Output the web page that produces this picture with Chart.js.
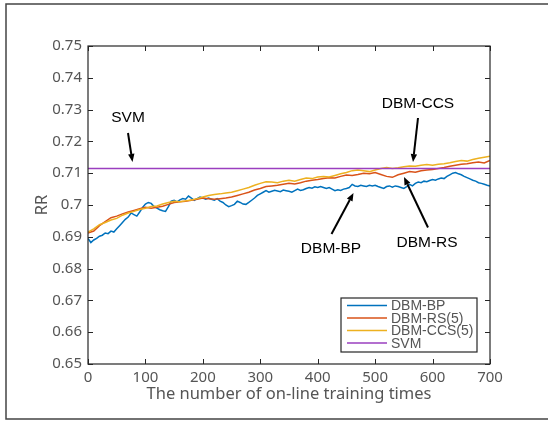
<!DOCTYPE html>
<html>
<head>
<meta charset="utf-8">
<title>RR vs on-line training times</title>
<script src="https://cdn.jsdelivr.net/npm/chart.js@4.4.1/dist/chart.umd.min.js"></script>
<style>
    html, body { margin: 0; padding: 0; background: #fff; }
    canvas { display: block; }
</style>
</head>
<body>
<canvas id="rr-chart" width="548" height="423"></canvas>
<script>
(function () {
    "use strict";

    // ===== Data =====
    // x step for each series (number of on-line training times)
    const stepCoarse = 10;
    const stepFine   = 5;

    // DBM-BP, every 5 steps
    const bpValues = [
        0.6895, 0.6882, 0.6890, 0.6895, 0.6902, 0.6905, 0.6912, 0.6910, 0.6918, 0.6915,
        0.6925, 0.6935, 0.6945, 0.6955, 0.6962, 0.6975, 0.6970, 0.6965, 0.6978, 0.6992,
        0.7003, 0.7008, 0.7005, 0.6995, 0.6990, 0.6985, 0.6982, 0.6980, 0.6995, 0.7012,
        0.7015, 0.7010, 0.7016, 0.7020, 0.7018, 0.7028, 0.7022, 0.7015, 0.7020, 0.7025,
        0.7022, 0.7018, 0.7022, 0.7018, 0.7015, 0.7020, 0.7012, 0.7008, 0.7000, 0.6995,
        0.6998, 0.7002, 0.7012, 0.7008, 0.7003, 0.7002, 0.7008, 0.7015, 0.7022, 0.7030,
        0.7035, 0.7040, 0.7045, 0.7040, 0.7043, 0.7046, 0.7044, 0.7042, 0.7047, 0.7045,
        0.7043, 0.7040, 0.7045, 0.7050, 0.7046, 0.7048, 0.7052, 0.7055, 0.7053, 0.7057,
        0.7055, 0.7058, 0.7055, 0.7052, 0.7055, 0.7050, 0.7045, 0.7048, 0.7046, 0.7050,
        0.7052, 0.7055, 0.7065, 0.7060, 0.7058, 0.7062, 0.7060, 0.7058, 0.7062, 0.7060,
        0.7062, 0.7058, 0.7055, 0.7052, 0.7058, 0.7060, 0.7056, 0.7060, 0.7058, 0.7055,
        0.7052, 0.7058, 0.7065, 0.7060, 0.7068, 0.7072, 0.7070, 0.7075, 0.7073, 0.7077,
        0.7080, 0.7078, 0.7082, 0.7085, 0.7083, 0.7090, 0.7095, 0.7100, 0.7102, 0.7098,
        0.7095, 0.7090, 0.7086, 0.7082, 0.7078, 0.7075, 0.7070, 0.7068, 0.7065, 0.7062,
        0.7060
    ];

    // DBM-RS(5), every 10 steps
    const rsValues = [
        0.6912, 0.6918, 0.6935, 0.6948, 0.6960, 0.6965, 0.6972, 0.6978, 0.6983, 0.6988,
        0.6993, 0.6990, 0.6993, 0.6996, 0.7002, 0.7008, 0.7010, 0.7012, 0.7015, 0.7018,
        0.7022, 0.7020, 0.7018, 0.7020, 0.7022, 0.7025, 0.7030, 0.7035, 0.7040, 0.7047,
        0.7052, 0.7058, 0.7060, 0.7062, 0.7065, 0.7068, 0.7066, 0.7070, 0.7075, 0.7078,
        0.7080, 0.7083, 0.7086, 0.7085, 0.7090, 0.7094, 0.7093, 0.7096, 0.7100, 0.7098,
        0.7102, 0.7096, 0.7090, 0.7087, 0.7095, 0.7100, 0.7105, 0.7103, 0.7108, 0.7110,
        0.7112, 0.7115, 0.7118, 0.7122, 0.7125, 0.7128, 0.7130, 0.7133, 0.7135, 0.7132,
        0.7140
    ];

    // DBM-CCS(5), every 10 steps
    const ccsValues = [
        0.6915, 0.6925, 0.6938, 0.6945, 0.6953, 0.6958, 0.6968, 0.6975, 0.6980, 0.6986,
        0.6990, 0.6995, 0.6997, 0.7003, 0.7008, 0.7012, 0.7010, 0.7013, 0.7016, 0.7020,
        0.7025, 0.7030, 0.7033, 0.7035, 0.7038, 0.7040, 0.7045, 0.7050, 0.7055, 0.7062,
        0.7068, 0.7073, 0.7072, 0.7070, 0.7075, 0.7078, 0.7075, 0.7080, 0.7085, 0.7083,
        0.7088, 0.7090, 0.7088, 0.7093, 0.7098, 0.7102, 0.7108, 0.7110, 0.7108, 0.7105,
        0.7110, 0.7115, 0.7118, 0.7115, 0.7117, 0.7120, 0.7123, 0.7122, 0.7125, 0.7127,
        0.7125, 0.7128, 0.7130, 0.7133, 0.7137, 0.7140, 0.7138, 0.7143, 0.7147, 0.7150,
        0.7153
    ];

    // SVM baseline (constant)
    const svmRange  = [0, 700];
    const svmValues = [0.7115, 0.7115];

    const seriesNames  = ["DBM-BP", "DBM-RS(5)", "DBM-CCS(5)", "SVM"];
    const seriesColors = ["#0072bd", "#d95319", "#edb120", "#9a3fbf"];

    const xTickLabels = ["0", "100", "200", "300", "400", "500", "600", "700"];
    const yTickLabels = ["0.65", "0.66", "0.67", "0.68", "0.69", "0.7",
                         "0.71", "0.72", "0.73", "0.74", "0.75"];

    // callouts: text, text centre, arrow tail, arrow head
    const callouts = [
        { text: "SVM",     tx: 128, ty: 118, from: [128, 133], to: [132.5, 162] },
        { text: "DBM-CCS", tx: 418, ty: 104, from: [418, 118], to: [413, 162] },
        { text: "DBM-BP",  tx: 331, ty: 249, from: [331.5, 234], to: [353.5, 193] },
        { text: "DBM-RS",  tx: 427, ty: 243, from: [428, 227.5], to: [404, 177] }
    ];

    // ===== Helpers =====
    function toPoints(values, step) {
        return values.map((v, i) => ({ x: i * step, y: v }));
    }

    function lineSet(idx, data, order) {
        return {
            label: seriesNames[idx],
            data: data,
            borderColor: seriesColors[idx],
            borderWidth: 1.5,
            pointRadius: 0,
            tension: 0,
            fill: false,
            order: order
        };
    }

    const axisGray = "#555";
    const fontFamily = "'Noto Sans', 'Liberation Sans', Arial, sans-serif";
    const tickFont  = { family: fontFamily, size: 15, lineHeight: 1.2 };
    const titleFont = { family: fontFamily, size: 16.5, lineHeight: 1.2 };
    const noTickMarks = { display: false, drawTicks: false, tickLength: 0 };

    // ===== Frame, inner ticks, legend, callouts =====
    const matlabFrame = {
        id: "matlabFrame",
        afterDraw(chart) {
            const ctx = chart.ctx;
            const a = chart.chartArea;
            const xs = chart.scales.x;
            const ys = chart.scales.y;
            const tick = 5;

            ctx.save();

            // outer figure frame
            ctx.strokeStyle = "#444";
            ctx.lineWidth = 1.5;
            ctx.beginPath();
            ctx.moveTo(560, 4);
            ctx.lineTo(6, 4);
            ctx.lineTo(6, 419);
            ctx.lineTo(560, 419);
            ctx.stroke();

            // axes box
            ctx.strokeStyle = "#262626";
            ctx.lineWidth = 1.2;
            ctx.strokeRect(a.left, a.top, a.right - a.left, a.bottom - a.top);

            // inward ticks on all four sides
            ctx.beginPath();
            xs.ticks.forEach((t) => {
                const px = Math.round(xs.getPixelForValue(t.value)) + 0.5;
                ctx.moveTo(px, a.bottom); ctx.lineTo(px, a.bottom - tick);
                ctx.moveTo(px, a.top);    ctx.lineTo(px, a.top + tick);
            });
            ys.ticks.forEach((t) => {
                const py = Math.round(ys.getPixelForValue(t.value)) + 0.5;
                ctx.moveTo(a.left, py);  ctx.lineTo(a.left + tick, py);
                ctx.moveTo(a.right, py); ctx.lineTo(a.right - tick, py);
            });
            ctx.lineWidth = 1;
            ctx.stroke();

            // legend box
            const lg = { left: 341, top: 298, right: 477, bottom: 352 };
            ctx.fillStyle = "#fff";
            ctx.fillRect(lg.left, lg.top, lg.right - lg.left, lg.bottom - lg.top);
            ctx.strokeStyle = "#262626";
            ctx.lineWidth = 1.2;
            ctx.strokeRect(lg.left, lg.top, lg.right - lg.left, lg.bottom - lg.top);

            ctx.font = "14px 'Liberation Sans', Arial, sans-serif";
            ctx.textBaseline = "middle";
            ctx.textAlign = "left";
            seriesNames.forEach((name, i) => {
                const y = 305.5 + i * 12.5;
                ctx.strokeStyle = seriesColors[i];
                ctx.lineWidth = 1.5;
                ctx.beginPath();
                ctx.moveTo(347, y);
                ctx.lineTo(387, y);
                ctx.stroke();
                ctx.fillStyle = axisGray;
                ctx.fillText(name, 391, y + 1);
            });

            // callout labels with arrows
            ctx.fillStyle = "#000";
            ctx.strokeStyle = "#000";
            ctx.font = "15.5px 'Liberation Sans', Arial, sans-serif";
            ctx.textAlign = "center";
            callouts.forEach((c) => {
                ctx.fillText(c.text, c.tx, c.ty);

                const [x0, y0] = c.from;
                const [x1, y1] = c.to;
                const ang = Math.atan2(y1 - y0, x1 - x0);
                const headLen = 8;
                const headHalf = 3.2;
                const bx = x1 - headLen * Math.cos(ang);
                const by = y1 - headLen * Math.sin(ang);

                ctx.lineWidth = 2;
                ctx.beginPath();
                ctx.moveTo(x0, y0);
                ctx.lineTo(bx, by);
                ctx.stroke();

                ctx.beginPath();
                ctx.moveTo(x1, y1);
                ctx.lineTo(bx + headHalf * Math.sin(ang), by - headHalf * Math.cos(ang));
                ctx.lineTo(bx - headHalf * Math.sin(ang), by + headHalf * Math.cos(ang));
                ctx.closePath();
                ctx.fill();
            });

            ctx.restore();
        }
    };

    // ===== Chart =====
    const canvas = document.getElementById("rr-chart");

    new Chart(canvas, {
        type: "line",
        data: {
            datasets: [
                lineSet(0, toPoints(bpValues, stepFine), 4),
                lineSet(1, toPoints(rsValues, stepCoarse), 3),
                lineSet(2, toPoints(ccsValues, stepCoarse), 2),
                lineSet(3, svmRange.map((x, i) => ({ x: x, y: svmValues[i] })), 1)
            ]
        },
        options: {
            responsive: false,
            animation: false,
            parsing: false,
            layout: { padding: { left: 0, top: 46, right: 58, bottom: 0 } },
            plugins: {
                legend: { display: false },
                tooltip: { enabled: false }
            },
            scales: {
                x: {
                    type: "linear",
                    min: 0,
                    max: 700,
                    grid: noTickMarks,
                    border: { display: false },
                    ticks: {
                        stepSize: 100,
                        autoSkip: false,
                        maxRotation: 0,
                        padding: 5,
                        color: axisGray,
                        font: tickFont,
                        callback: (v, i) => xTickLabels[i]
                    },
                    title: {
                        display: true,
                        text: "The number of on-line training times",
                        color: axisGray,
                        font: titleFont,
                        padding: { top: 0, bottom: 19 }
                    },
                    afterFit: (s) => { s.height = 59; }
                },
                y: {
                    min: 0.65,
                    max: 0.75,
                    grid: noTickMarks,
                    border: { display: false },
                    ticks: {
                        stepSize: 0.01,
                        autoSkip: false,
                        padding: 6,
                        color: axisGray,
                        font: tickFont,
                        callback: (v, i) => yTickLabels[i]
                    },
                    title: {
                        display: true,
                        text: "RR",
                        color: axisGray,
                        font: titleFont,
                        padding: { top: 32, bottom: 0 }
                    },
                    afterFit: (s) => { s.width = 88; }
                }
            }
        },
        plugins: [matlabFrame]
    });
})();
</script>
</body>
</html>
